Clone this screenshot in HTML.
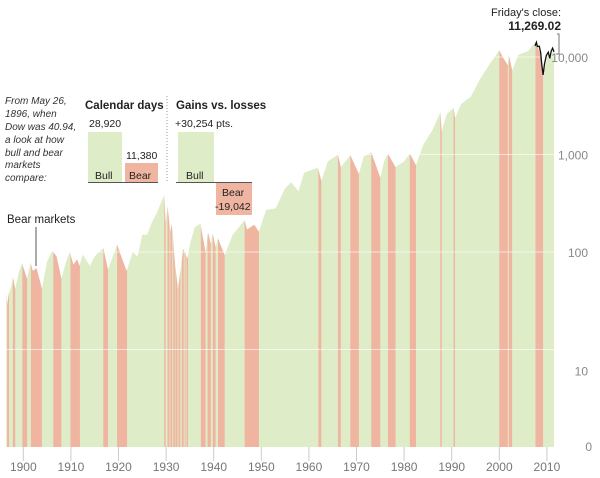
<!DOCTYPE html>
<html><head><meta charset="utf-8"><style>
body{margin:0;background:#fff;width:600px;height:473px;overflow:hidden;font-family:"Liberation Sans",sans-serif}
svg text{font-family:"Liberation Sans",sans-serif}
</style></head><body>
<svg id="c" width="600" height="473">
<defs><clipPath id="areaClip"><path id="clipPath1"/></clipPath></defs>
<g id="plot"></g>
<g id="axes"></g>
<g font-size="10" font-style="italic" fill="#333">
<text x="5" y="104">From May 26,</text><text x="5" y="117">1896, when</text><text x="5" y="130">Dow was 40.94,</text><text x="5" y="143">a look at how</text><text x="5" y="156">bull and bear</text><text x="5" y="168">markets</text><text x="5" y="181">compare:</text>
</g>
<g font-size="10.5" fill="#222">
<text x="85" y="109" font-weight="bold" font-size="11.5">Calendar days</text>
<text x="89" y="127">28,920</text>
<rect x="88" y="132" width="34" height="50" fill="#dfecc8"/>
<text x="126" y="159">11,380</text>
<rect x="125" y="163" width="33" height="19" fill="#f0b5a0"/>
<text x="95" y="179">Bull</text><text x="129" y="179">Bear</text>
<line x1="88" y1="182.5" x2="158" y2="182.5" stroke="#555"/>
</g>
<line x1="167" y1="96" x2="167" y2="182" stroke="#999" stroke-dasharray="1,2"/>
<g font-size="10.5" fill="#222">
<text x="176" y="109" font-weight="bold" font-size="11.5">Gains vs. losses</text>
<text x="175" y="127">+30,254 pts.</text>
<rect x="178" y="132" width="36" height="50" fill="#dfecc8"/>
<rect x="216" y="182" width="36" height="33" fill="#f0b5a0"/>
<text x="186" y="179">Bull</text><text x="222" y="196">Bear</text><text x="215" y="210">-19,042</text>
<line x1="176" y1="182.5" x2="252" y2="182.5" stroke="#555"/>
</g>
<g>
<text x="7" y="223" font-size="11.5" fill="#222">Bear markets</text>
<line x1="36" y1="227" x2="36" y2="266" stroke="#555"/>
</g>
<g text-anchor="end" font-size="11" fill="#222">
<text x="561" y="16">Friday's close:</text>
<text x="561" y="30" font-weight="bold" font-size="12">11,269.02</text>
<polyline points="557,34 559,34 559,54 556,54" fill="none" stroke="#777"/>
</g>
</svg>
<script>
const dowYears=[1896.4,1896.6,1897.0,1897.5,1897.8,1898.3,1899.0,1899.7,1900.8,1901.5,1902,1902.8,1903.9,1905,1906.1,1907,1908.0,1909,1909.8,1910.5,1911.3,1911.8,1912.5,1914,1915,1916.8,1917.8,1918.5,1919.7,1920.5,1921.7,1923,1924,1925,1926,1927,1928,1929.6,1929.9,1930.3,1930.9,1931.2,1931.9,1932.5,1933.6,1934.5,1935,1936,1937.2,1938.3,1938.8,1939.4,1939.8,1940.4,1940.9,1942.3,1944,1946.5,1947,1948.5,1949.5,1951,1953,1955,1956.3,1957.8,1959,1961.9,1962.6,1964,1966.1,1966.7,1968.7,1970.5,1971.5,1973.1,1975.0,1975.8,1976.6,1978.2,1980,1981.2,1982.5,1984,1986,1987.6,1987.9,1989,1990.4,1990.7,1992,1994,1996,1998,2000.0,2000.7,2001.8,2002.0,2002.7,2004,2006,2007.6,2008.5,2009.2,2010.3,2010.6,2011.5];
const dowValues=[40.9,29,38,45,55,42,60,77,53,78,64,68,42,80,103,90,53,80,100,74,84,72,94,72,90,110,66,82,119,92,64,100,90,150,150,200,250,381,199,294,160,194,75,41,108,86,120,180,194,99,158,121,155,112,138,93,150,212,170,190,161,270,280,450,520,420,650,734,536,850,995,744,985,631,950,1051,578,850,1014,742,850,1024,777,1250,1800,2722,1738,2600,2999,2365,3300,3900,6000,8500,11722,10000,8235,10600,7286,10500,11500,14164,11000,6547,11205,9686,12000];
const bearStarts=[1896.6,1897.8,1899.8,1901.6,1906.3,1909.9,1916.8,1919.7,1929.6,1930.3,1930.9,1931.5,1932.0,1932.6,1933.3,1933.9,1934.3,1937.3,1938.7,1939.8,1940.9,1946.5,1962.0,1966.1,1968.7,1973.1,1976.6,1981.2,1987.6,1990.4,2000.0,2002.0,2007.6];
const bearEnds=[1897.0,1898.3,1900.8,1903.9,1908.0,1911.9,1917.8,1921.8,1929.9,1930.7,1931.3,1931.9,1932.4,1933.0,1933.7,1934.1,1934.6,1938.3,1939.4,1940.4,1942.3,1949.5,1962.6,1966.7,1970.5,1975.0,1978.2,1982.5,1987.9,1990.7,2001.8,2002.7,2009.2];
const recentYears=[2007.5,2007.8,2008.0,2008.4,2008.7,2008.9,2009.2,2009.5,2009.9,2010.3,2010.6,2010.9,2011.2,2011.5];
const recentValues=[13000,14164,12800,12900,11000,8500,6547,8500,10400,11205,9686,11500,12300,11269];
const yTicks=[10000,1000,100,10];
const yTickLabels=["10,000","1,000","100","10"];
const xTicks=[1900,1910,1920,1930,1940,1950,1960,1970,1980,1990,2000,2010];

const NS="http://www.w3.org/2000/svg";
const X=y=>499.3+(y-2000)*4.76;
const Y=v=>447-97.5*Math.log10(v);
const plot=document.getElementById('plot'),axes=document.getElementById('axes');
function mk(t,a,p){const e=document.createElementNS(NS,t);for(const k in a)e.setAttribute(k,a[k]);p.appendChild(e);return e;}
let d="M"+X(dowYears[0])+",447";
dowYears.forEach((yr,i)=>{d+="L"+X(yr).toFixed(1)+","+Y(dowValues[i]).toFixed(1);});
d+="L"+X(dowYears[dowYears.length-1])+",447Z";
document.getElementById('clipPath1').setAttribute('d',d);
const area=mk('path',{d:d,fill:'#dfecc8'},plot);


const bg=mk('g',{'clip-path':'url(#areaClip)'},plot);
bearStarts.forEach((s,i)=>{
 const r=mk('rect',{x:X(s),y:0,width:Math.max(0.8,X(bearEnds[i])-X(s)),height:447,fill:'#f0b5a0'},bg);
 
 
});
yTicks.forEach((v,i)=>{
 const l=mk('line',{x1:5,x2:556,y1:Y(v),y2:Y(v),stroke:'#fff','stroke-width':1,opacity:0.6},plot);
 
 
 const t=mk('text',{x:588,y:Y(v)+(v===10?26:5),'text-anchor':'end','font-size':12,fill:'#888'},axes);
 t.textContent=yTickLabels[i];
 
 
});
const z=mk('text',{x:592,y:451,'text-anchor':'end','font-size':12,fill:'#888'},axes);
z.textContent="0";


xTicks.forEach(yr=>{
 const l=mk('line',{x1:X(yr),x2:X(yr),y1:447,y2:461,stroke:'#ccc'},axes);
 
 
 const t=mk('text',{x:X(yr),y:471,'text-anchor':'middle','font-size':12,fill:'#777'},axes);
 t.textContent=yr;
 
 
});
let p="";recentYears.forEach((yr,i)=>{p+=(i?"L":"M")+X(yr).toFixed(1)+","+Y(recentValues[i]).toFixed(1);});
const rl=mk('path',{d:p,fill:'none',stroke:'#111','stroke-width':1.3},plot);


</script>
</body></html>
